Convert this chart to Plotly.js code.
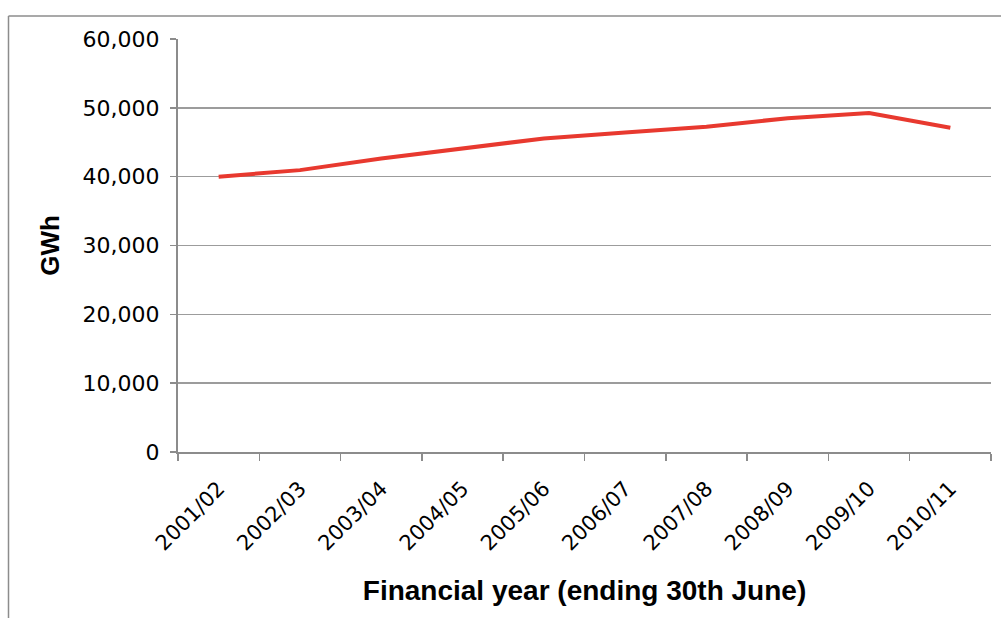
<!DOCTYPE html>
<html>
<head>
<meta charset="utf-8">
<script src="https://cdn.plot.ly/plotly-3.0.1.min.js"></script>
<style>
html,body{margin:0;padding:0;background:#fff;}
#chart{width:1001px;height:618px;}
</style>
</head>
<body>
<div id="chart"></div>
<script>
var years = ["2001/02","2002/03","2003/04","2004/05","2005/06","2006/07","2007/08","2008/09","2009/10","2010/11"];
var gwh = [40000, 40950, 42650, 44100, 45550, 46400, 47250, 48500, 49250, 47100];
var yTicks = [0, 10000, 20000, 30000, 40000, 50000, 60000];

var L = 178, R = 10, T = 39, B = 166, W = 1001, H = 618;
var pw = W - L - R, ph = H - T - B;
function px(x){ return (x - L) / pw; }
function py(y){ return (H - B - y) / ph; }

var tickFont = 'DejaVu Sans, Liberation Sans, Arial, sans-serif';
var titleFont = 'Liberation Sans, Arial, sans-serif';

var trace = {
  type: 'scatter',
  mode: 'lines',
  x: years,
  y: gwh,
  line: {color: '#e8392f', width: 4},
  hoverinfo: 'x+y'
};

var layout = {
  width: W, height: H,
  margin: {l: L, r: R, t: T, b: B},
  paper_bgcolor: '#ffffff',
  plot_bgcolor: '#ffffff',
  showlegend: false,
  font: {family: titleFont, color: '#000'},
  xaxis: {
    type: 'category',
    range: [-0.5, 9.5],
    tickson: 'boundaries',
    ticks: 'outside',
    ticklen: 7,
    tickwidth: 1.5,
    tickcolor: '#8c8c8c',
    showline: true,
    linecolor: '#8c8c8c',
    linewidth: 2,
    showgrid: false,
    zeroline: false,
    tickangle: -45,
    ticklabelstandoff: 14,
    tickfont: {size: 21, family: tickFont, color: '#000'},
    title: {
      text: '<b>Financial year (ending 30th June)</b>',
      font: {size: 28, family: titleFont, color: '#000'},
      standoff: 26
    },
    automargin: false
  },
  yaxis: {
    range: [0, 60000],
    tickvals: yTicks,
    tickformat: ',d',
    ticks: 'outside',
    ticklen: 6,
    tickwidth: 1.5,
    tickcolor: '#8c8c8c',
    showline: true,
    linecolor: '#8c8c8c',
    linewidth: 2,
    showgrid: true,
    gridcolor: '#9c9c9c',
    gridwidth: 1.5,
    zeroline: false,
    ticklabelstandoff: 6,
    tickfont: {size: 22, family: tickFont, color: '#000'},
    title: {
      text: '<b>GWh</b>',
      font: {size: 26, family: titleFont, color: '#000'},
      standoff: 16
    },
    automargin: false
  },
  shapes: [
    {type: 'line', xref: 'paper', yref: 'paper', x0: px(8.5), x1: px(1001), y0: py(16), y1: py(16), line: {color: '#8c8c8c', width: 1.5}},
    {type: 'line', xref: 'paper', yref: 'paper', x0: px(8.5), x1: px(8.5), y0: py(16), y1: py(618), line: {color: '#8c8c8c', width: 1.5}}
  ]
};

Plotly.newPlot('chart', [trace], layout, {displayModeBar: false, staticPlot: true});
</script>
</body>
</html>
